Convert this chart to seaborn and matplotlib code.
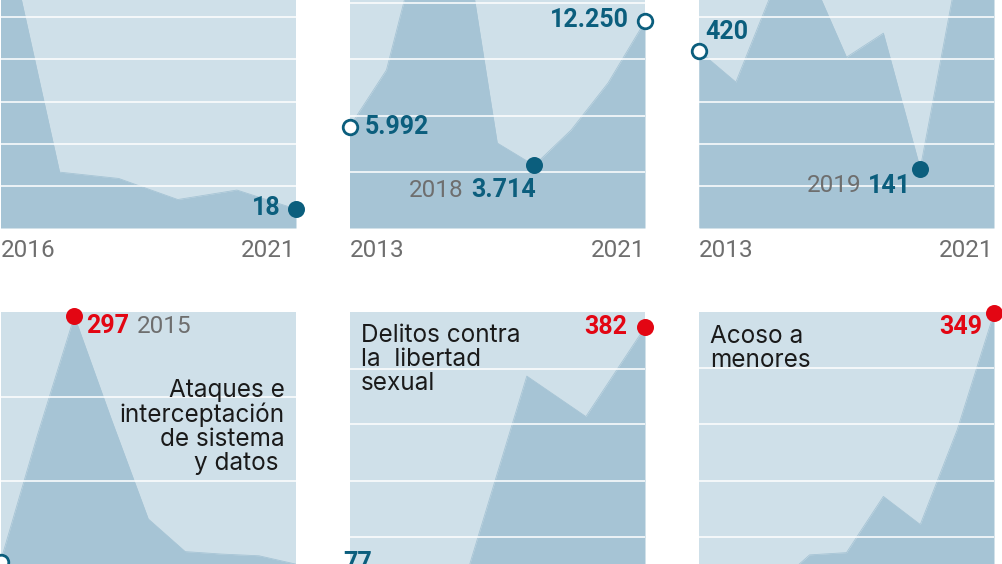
import numpy as np
import pandas as pd
import matplotlib
matplotlib.use("Agg")
import matplotlib.pyplot as plt
import seaborn as sns

# ---------------- data ----------------
years_a = [2016, 2017, 2018, 2019, 2020, 2021]
vals_a = [306, 53, 47, 27, 36, 18]

years_b = [2013, 2014, 2015, 2016, 2017, 2018, 2019, 2020, 2021]
vals_b = [5992, 9366, 17900, 18900, 5040, 3714, 5810, 8600, 12250]

years_c = [2013, 2014, 2015, 2016, 2017, 2018, 2019, 2020, 2021]
vals_c = [420, 346, 564, 605, 405, 462, 141, 605, 580]

years_d = [2013, 2014, 2015, 2016, 2017, 2018, 2019, 2020, 2021]
vals_d = [4, 155, 297, 174, 55, 16, 13, 11, 1]

years_e = [2016, 2017, 2018, 2019, 2020, 2021]
vals_e = [77, 85, 93, 324, 276, 382]

years_f = [2013, 2014, 2015, 2016, 2017, 2018, 2019, 2020, 2021]
vals_f = [95, 100, 105, 134, 136, 186, 161, 245, 349]

titles = ["", "", "",
          "Ataques e\ninterceptación\nde sistema\ny datos ",
          "Delitos contra\nla  libertad\nsexual",
          "Acoso a\nmenores"]

ylims = [(0, 240), (0, 15000), (0, 600), (0, 302), (100, 400), (125, 350)]
grids = [[40, 80, 120, 160, 200],
         [3333, 6667, 10000, 13333],
         [100, 200, 300, 400, 500],
         [100, 200],
         [133, 200, 267, 333],
         [150, 200, 250, 300]]

# ---------------- style ----------------
LIGHT = "#cfe0e9"
DARK = "#a6c4d5"
TEAL = "#0b5e7d"
RED = "#e30613"
GRAY = "#6e6e6e"
NUMFONT = ["Roboto", "DejaVu Sans"]
YEARFONT = ["Roboto", "DejaVu Sans"]
TITLEFONT = ["Inter", "DejaVu Sans"]

sns.set_style("white")
plt.rcParams["font.family"] = ["Roboto", "DejaVu Sans"]

W, H = 1002, 564
fig = plt.figure(figsize=(W / 100, H / 100), dpi=100)


def px_axes(x0, y0, x1, y1):
    return fig.add_axes([x0 / W, (H - y1) / H, (x1 - x0) / W, (y1 - y0) / H])


boxes = [(0.5, -25, 296, 228), (349.5, -25, 645, 228), (699, -25, 994, 228),
         (0.5, 312, 296, 565), (349.5, 312, 645, 565), (699, 312, 994, 565)]
series = [(years_a, vals_a), (years_b, vals_b), (years_c, vals_c),
          (years_d, vals_d), (years_e, vals_e), (years_f, vals_f)]

axes = []
for i, (box, (yrs, vals)) in enumerate(zip(boxes, series)):
    ax = px_axes(*box)
    axes.append(ax)
    ax.set_facecolor(LIGHT)
    df = pd.DataFrame({"year": yrs, "value": vals})
    lo, hi = ylims[i]
    ax.fill_between(df["year"], df["value"], lo, color=DARK, lw=0, zorder=1)
    sns.lineplot(data=df, x="year", y="value", ax=ax, color=DARK, lw=0.6, zorder=1.1)
    ax.set_xlim(yrs[0], yrs[-1])
    ax.set_ylim(lo, hi)
    ax.set_yticks(grids[i])
    ax.set_axisbelow(False)
    ax.yaxis.grid(True, color="white", lw=1.1, zorder=2)
    ax.xaxis.grid(False)
    ax.tick_params(axis="y", length=0, labelleft=False)
    ax.set_ylabel("")
    ax.set_xlabel("")
    for s in ax.spines.values():
        s.set_visible(False)
    if i < 3:
        ax.set_xticks([yrs[0], yrs[-1]])
        ax.set_xticklabels([str(yrs[0]), str(yrs[-1])])
        ax.tick_params(axis="x", length=0, pad=8, labelcolor=GRAY)
        tl = ax.get_xticklabels()
        tl[0].set_ha("left")
        tl[1].set_ha("right")
        for t in tl:
            t.set_family(YEARFONT)
            t.set_fontsize(17.5)
    else:
        ax.set_xticks([])


def dot(ax, x, y, filled=True, color=TEAL):
    if filled:
        sns.scatterplot(x=[x], y=[y], ax=ax, s=150, color=color, edgecolor=color,
                        linewidth=0, zorder=6, clip_on=False, legend=False)
    else:
        sns.scatterplot(x=[x], y=[y], ax=ax, s=110, facecolor="white", edgecolor=TEAL,
                        linewidth=2.0, zorder=6, clip_on=False, legend=False)


def label(ax, x, y, txt, dx, dy, ha, color=TEAL, num=True):
    if num:
        fam, size, weight = NUMFONT, 18, "bold"
    else:
        fam, size, weight = YEARFONT, 17.5, "normal"
    ax.annotate(txt, (x, y), xytext=(dx, dy), textcoords="offset pixels",
                ha=ha, va="center", color=color, fontsize=size, fontweight=weight,
                family=fam, zorder=7, annotation_clip=False)


# panel 1
ax = axes[0]
dot(ax, years_a[-1], vals_a[-1])
label(ax, years_a[-1], vals_a[-1], "18", -15, 1, "right")

# panel 2
ax = axes[1]
dot(ax, years_b[0], vals_b[0], filled=False)
label(ax, years_b[0], vals_b[0], "5.992", 15, 0, "left")
dot(ax, years_b[5], vals_b[5])
label(ax, years_b[5], vals_b[5], "3.714", -63, -25, "left")
label(ax, years_b[5], vals_b[5], "2018", -71, -25, "right", color=GRAY, num=False)
dot(ax, years_b[-1], vals_b[-1], filled=False)
label(ax, years_b[-1], vals_b[-1], "12.250", -16, 1, "right")

# panel 3
ax = axes[2]
dot(ax, years_c[0], vals_c[0], filled=False)
label(ax, years_c[0], vals_c[0], "420", 6, 19, "left")
dot(ax, years_c[6], vals_c[6])
label(ax, years_c[6], vals_c[6], "141", -9, -17, "right")
label(ax, years_c[6], vals_c[6], "2019", -59, -17, "right", color=GRAY, num=False)

# panel 4
ax = axes[3]
dot(ax, years_d[0], vals_d[0], filled=False)
dot(ax, years_d[2], vals_d[2], color=RED)
label(ax, years_d[2], vals_d[2], "297", 12, -10, "left", color=RED)
label(ax, years_d[2], vals_d[2], "2015", 63, -10, "left", color=GRAY, num=False)

# panel 5
ax = axes[4]
dot(ax, years_e[0], vals_e[0], filled=False)
label(ax, years_e[0], vals_e[0], "77", -6, 21, "left")
dot(ax, years_e[-1], vals_e[-1], color=RED)
label(ax, years_e[-1], vals_e[-1], "382", -18, 0, "right", color=RED)

# panel 6
ax = axes[5]
dot(ax, years_f[-1], vals_f[-1], color=RED)
label(ax, years_f[-1], vals_f[-1], "349", -12, -14, "right", color=RED)


def title_px(txt, x, y, ha):
    fig.text(x / W, (H - y) / H, txt, ha=ha, va="top", fontsize=17.5,
             family=TITLEFONT, color="#1a1a1a", linespacing=1.05, multialignment=ha)


title_px(titles[3], 285, 379, "right")
title_px(titles[4], 361, 324, "left")
title_px(titles[5], 710, 325, "left")

fig.savefig("out.png", dpi=100, facecolor="white")
